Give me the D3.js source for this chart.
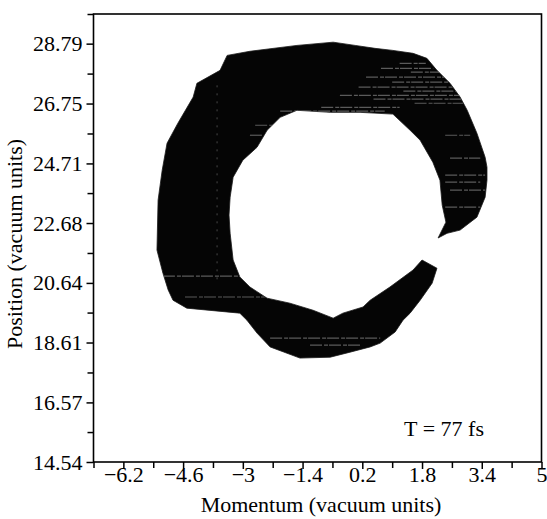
<!DOCTYPE html>
<html lang="en">
<head>
<meta charset="UTF-8">
<title>Phase space T = 77 fs</title>
<script src="https://d3js.org/d3.v7.min.js"></script>
<style>
    body { margin: 0; background: #fff; }
    svg text { font-family: "Liberation Serif", "DejaVu Serif", serif !important; fill: #000; }
    .axis path { display: none; }
    .axis line { stroke: #000; stroke-width: 1.5px; }
    .axis text { font-size: 22px; }
</style>
</head>
<body>
<div id="chart"></div>
<script>
// tick labels
const xTicks = [-6.2, -4.6, -3, -1.4, 0.2, 1.8, 3.4, 5];
const xMinor = [-7, -5.4, -3.8, -2.2, -0.6, 1.0, 2.6, 4.2];
const yTicks = [14.54, 16.57, 18.61, 20.64, 22.68, 24.71, 26.75, 28.79];
const yMinor = [15.56, 17.59, 19.63, 21.66, 23.70, 25.73, 27.77, 29.80];

// outline of the distribution: outer edge from upper tip round to lower tip,
// then the inner edge back  [momentum, position]
const outerEdge = [
    [2.23, 22.17], [2.47, 22.33], [2.82, 22.44], [3.27, 22.88], [3.49, 23.56],
    [3.54, 24.14], [3.54, 24.58], [3.49, 24.92], [3.27, 25.74], [3.01, 26.52],
    [2.82, 26.97], [2.55, 27.44], [2.20, 27.88], [1.93, 28.29], [1.56, 28.46],
    [1.02, 28.56], [0.54, 28.63], [0.01, 28.73], [-0.58, 28.84], [-1.55, 28.73],
    [-2.81, 28.53], [-3.42, 28.39], [-3.61, 27.88], [-4.23, 27.44], [-4.33, 26.97],
    [-4.74, 26.08], [-5.03, 25.40], [-5.16, 24.48], [-5.27, 23.46], [-5.30, 21.76],
    [-5.14, 20.97], [-5.00, 20.40], [-4.87, 20.05], [-4.50, 19.78], [-3.08, 19.61],
    [-2.89, 19.37], [-2.62, 18.93], [-2.27, 18.46], [-1.47, 18.08], [-0.66, 18.11],
    [-0.13, 18.28], [0.41, 18.46], [0.68, 18.59], [1.08, 18.97], [1.29, 19.37],
    [1.48, 19.61], [1.75, 20.05], [2.07, 20.63], [2.20, 21.14], [1.80, 21.42]
];
const innerEdge = [
    [1.56, 21.08], [0.94, 20.50], [0.41, 20.05], [0.22, 19.82], [-0.32, 19.61],
    [-0.58, 19.44], [-1.12, 19.71], [-1.74, 19.95], [-2.35, 20.12], [-2.81, 20.50],
    [-3.08, 20.84], [-3.26, 21.42], [-3.34, 22.33], [-3.37, 22.95], [-3.34, 23.56],
    [-3.26, 24.24], [-3.00, 24.82], [-2.62, 25.26], [-2.35, 25.84], [-2.00, 26.28],
    [-1.55, 26.52], [-0.66, 26.45], [0.14, 26.45], [1.02, 26.39], [1.48, 25.84],
    [1.75, 25.50], [2.09, 24.75], [2.28, 24.14], [2.34, 23.29], [2.44, 22.71]
];

// lighter horizontal streaks inside the band [position, momentum from, momentum to]
const streaks = [
    [28.12, 1.2, 1.9], [27.95, 0.7, 2.1], [27.82, 1.5, 2.4], [27.65, 0.3, 2.5],
    [27.48, 1.0, 2.7], [27.31, 0.1, 2.8], [27.17, 1.3, 2.9], [27.03, -0.4, 3.0],
    [26.90, 0.5, 3.0], [26.76, 1.6, 2.9], [26.62, -0.9, 1.2], [26.49, -2.0, 0.8],
    [26.01, -2.67, -2.14], [25.67, -2.81, -2.49], [25.67, 2.42, 3.09],
    [24.89, 2.55, 3.36], [24.31, 2.42, 3.49], [24.07, 2.42, 3.36], [23.80, 2.55, 3.49],
    [23.22, 2.42, 3.36], [20.87, -5.14, -3.08], [20.16, -4.55, -2.41],
    [18.76, -2.27, 0.68], [18.52, -1.20, 0.14]
];
const seam = [[-3.69, 27.37], [-3.69, 20.74]];

const width = 547, height = 519;
const serif = '"Liberation Serif", "DejaVu Serif", serif';

const x = d3.scaleLinear().domain([-7, 5]).range([93.5, 541.5]);
const y = d3.scaleLinear().domain([14.54, 29.80]).range([462, 14]);

const svg = d3.select("#chart").append("svg")
    .attr("width", width)
    .attr("height", height)
    .attr("font-family", serif);

const line = d3.line().x(d => x(d[0])).y(d => y(d[1]));

// the band
const band = outerEdge.concat(innerEdge);
svg.append("clipPath").attr("id", "band")
    .append("path").attr("d", line(band) + "Z");

svg.append("path")
    .attr("d", line(band) + "Z")
    .attr("fill", "#050505")
    .attr("stroke", "#1a1a1a")
    .attr("stroke-width", 0.8);

const tex = svg.append("g").attr("clip-path", "url(#band)");
tex.selectAll("line.streak")
    .data(streaks)
    .enter().append("line")
    .attr("class", "streak")
    .attr("x1", d => x(d[1]))
    .attr("x2", d => x(d[2]))
    .attr("y1", d => y(d[0]))
    .attr("y2", d => y(d[0]))
    .attr("stroke", "#808080")
    .attr("stroke-width", 1.2)
    .attr("stroke-dasharray", "12,2,4,1")
    .attr("opacity", 0.7);

tex.append("path")
    .attr("d", line(seam))
    .attr("stroke", "#aaa")
    .attr("stroke-width", 0.8)
    .attr("stroke-dasharray", "2,6")
    .attr("opacity", 0.5);

// frame
svg.append("rect")
    .attr("x", x(-7))
    .attr("y", y(29.80))
    .attr("width", x(5) - x(-7))
    .attr("height", y(14.54) - y(29.80))
    .attr("fill", "none")
    .attr("stroke", "#000")
    .attr("stroke-width", 1.6);

// axes
const xAxis = svg.append("g")
    .attr("class", "axis")
    .attr("transform", `translate(0,${y(14.54)})`)
    .call(d3.axisBottom(x).tickValues(xTicks).tickSize(7).tickSizeOuter(0)
        .tickFormat(d => d3.format("")(d)));
xAxis.attr("font-family", serif).attr("font-size", 22);
xAxis.selectAll("text").attr("y", 20).attr("dy", 0);

svg.append("g")
    .attr("class", "axis")
    .attr("transform", `translate(0,${y(14.54)})`)
    .call(d3.axisBottom(x).tickValues(xMinor).tickSize(6).tickSizeOuter(0).tickFormat(""));

const yAxis = svg.append("g")
    .attr("class", "axis")
    .attr("transform", `translate(${x(-7)},0)`)
    .call(d3.axisLeft(y).tickValues(yTicks).tickSize(7).tickPadding(4).tickSizeOuter(0)
        .tickFormat(d3.format(".2f")));
yAxis.attr("font-family", serif).attr("font-size", 22);

svg.append("g")
    .attr("class", "axis")
    .attr("transform", `translate(${x(-7)},0)`)
    .call(d3.axisLeft(y).tickValues(yMinor).tickSize(6).tickSizeOuter(0).tickFormat(""));

// titles
svg.append("text")
    .attr("x", 321)
    .attr("y", 512)
    .attr("text-anchor", "middle")
    .style("font-size", "22px")
    .text("Momentum (vacuum units)");

svg.append("text")
    .attr("transform", "translate(22,244) rotate(-90)")
    .attr("text-anchor", "middle")
    .style("font-size", "22px")
    .text("Position (vacuum units)");

svg.append("text")
    .attr("x", x(1.32))
    .attr("y", y(15.42))
    .style("font-size", "22px")
    .text("T = 77 fs");
</script>
</body>
</html>
